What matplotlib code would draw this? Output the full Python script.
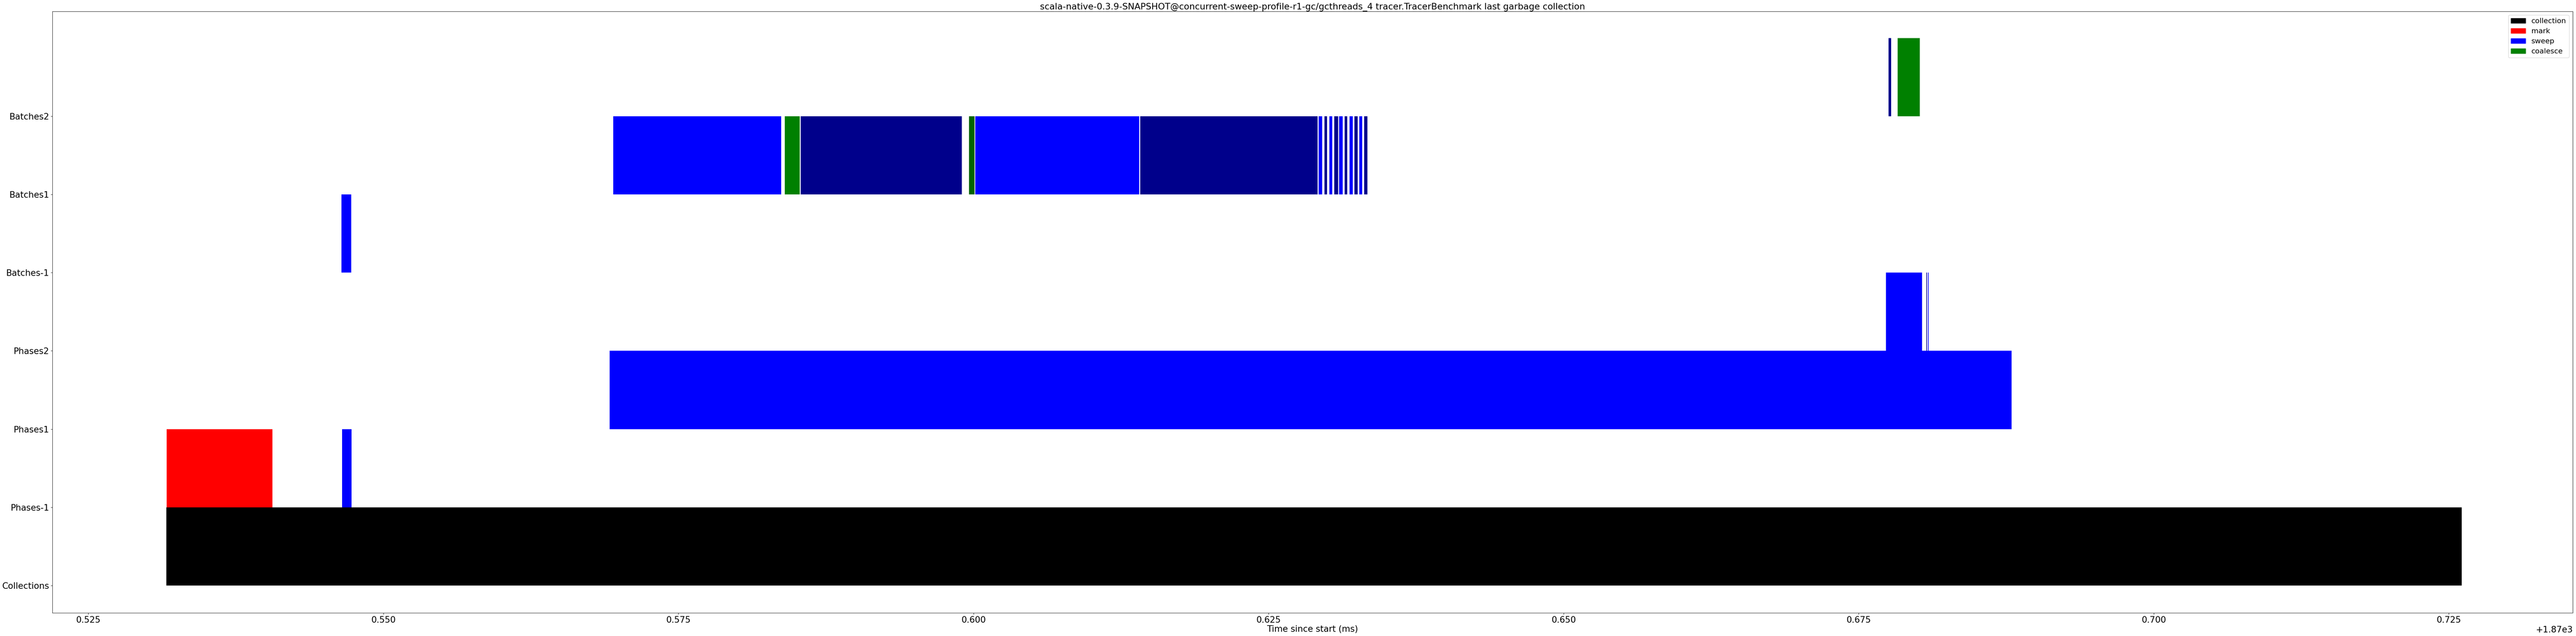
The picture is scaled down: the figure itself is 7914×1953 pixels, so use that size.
import matplotlib
matplotlib.use("Agg")
import matplotlib.pyplot as plt
from matplotlib.patches import Patch

OFFSET = 1870.0
TITLE = "scala-native-0.3.9-SNAPSHOT@concurrent-sweep-profile-r1-gc/gcthreads_4 tracer.TracerBenchmark last garbage collection"
ROWS = ["Collections", "Phases-1", "Phases1", "Phases2", "Batches-1", "Batches1", "Batches2"]

# (start, end) in ms minus 1870; each row's bar sits between its tick and the next one
collection = [(0.5316, 0.7261)]
row1_mark = [(0.53165, 0.54059)]
row1_sweep = [(0.54651, 0.54730)]
row2_sweep = [(0.56917, 0.68795)]
row3_sweep = [(0.67732, 0.68037), (0.68073, 0.68079), (0.68086, 0.68092)]
row4_sweep = [(0.54646, 0.54727)]
row5_sweep = [(0.56947, 0.58370), (0.58536, 0.59902),
              (0.60016, 0.61404), (0.61412, 0.62917),
              (0.62925, 0.62955), (0.62974, 0.62996), (0.63015, 0.63039),
              (0.63057, 0.63090), (0.63098, 0.63128), (0.63145, 0.63166),
              (0.63186, 0.63213), (0.63227, 0.63254), (0.63268, 0.63295),
              (0.63310, 0.63337)]
row5_coalesce = [(0.58402, 0.58528), (0.59962, 0.60008)]
row6_sweep = [(0.67754, 0.67776)]
row6_coalesce = [(0.67830, 0.68018)]

SWEEP_COLORS = ["blue", "darkblue"]
COAL_COLORS = ["green", "darkgreen"]

fig = plt.figure(figsize=(79.14, 19.53), dpi=100)
ax = fig.add_axes([0.0203, 0.0364, 0.9784, 0.9456])


def draw(spans, row, colors):
    xr = [(OFFSET + a, b - a) for a, b in spans]
    cols = [colors[i % len(colors)] for i in range(len(spans))]
    ax.broken_barh(xr, (row, 1), facecolors=cols, edgecolor="none")


draw(collection, 0, ["black"])
draw(row1_mark, 1, ["red"])
draw(row1_sweep, 1, ["blue"])
draw(row2_sweep, 2, ["blue"])
draw(row3_sweep, 3, SWEEP_COLORS)
draw(row4_sweep, 4, ["blue"])
draw(row5_sweep, 5, SWEEP_COLORS)
draw(row5_coalesce, 5, COAL_COLORS)
draw(row6_sweep, 6, ["darkblue"])
draw(row6_coalesce, 6, COAL_COLORS)

ax.set_xlim(OFFSET + 0.52195, OFFSET + 0.7355)
ax.set_ylim(-0.35, 7.34)
ax.set_yticks(range(len(ROWS)))
ax.set_yticklabels(ROWS)
ax.tick_params(labelsize=19)
ax.set_xlabel("Time since start (ms)", fontsize=19, labelpad=2)
ax.set_title(TITLE, fontsize=19.5, pad=4)
ax.xaxis.get_offset_text().set_fontsize(19)

handles = [Patch(color="black", label="collection"), Patch(color="red", label="mark"),
           Patch(color="blue", label="sweep"), Patch(color="green", label="coalesce")]
ax.legend(handles=handles, loc="upper right", fontsize=16)

fig.savefig("out.png", dpi=100)
